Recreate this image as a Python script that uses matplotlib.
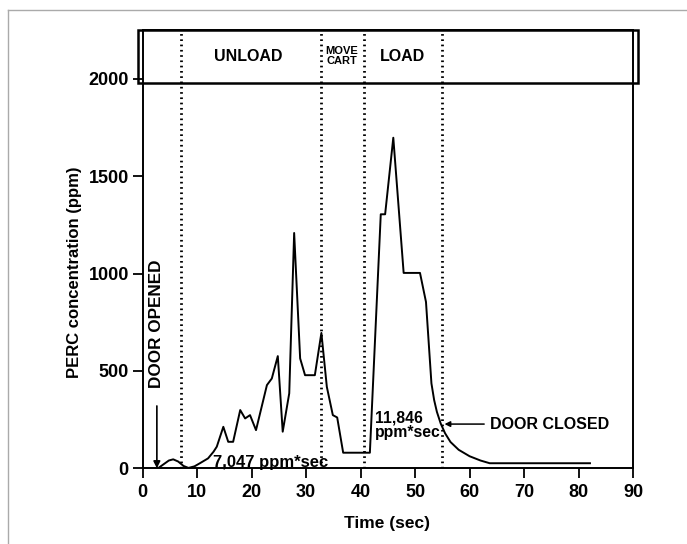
import matplotlib
matplotlib.use("Agg")
import matplotlib.pyplot as plt
from matplotlib.patches import Rectangle
from matplotlib.lines import Line2D

plt.rcParams['font.family'] = ['Liberation Sans', 'DejaVu Sans']
plt.rcParams['font.weight'] = 'bold'

# PERC concentration trace
time_s = [2.9, 3.8, 4.8, 5.6, 6.5, 7.5, 8.4, 9.5, 10.5, 12.0, 13.0, 13.6,
          14.8, 15.7, 16.6, 17.9, 18.8, 19.7, 20.8, 22.8, 23.7, 24.8, 25.7,
          26.9, 27.8, 28.9, 29.8, 31.6, 32.8, 33.8, 34.9, 35.7, 36.8, 41.7,
          43.7, 44.5, 46.0, 47.9, 50.9, 52.0, 53.0, 53.5, 54.0, 54.7, 55.5,
          56.5, 58.0, 60.0, 62.0, 63.7, 82.1]
perc_ppm = [2, 20, 40, 46, 35, 12, 2, 10, 26, 51, 85, 111,
            213, 136, 136, 299, 256, 273, 196, 427, 461, 576, 188,
            385, 1208, 564, 478, 478, 695, 418, 273, 261, 80, 80,
            1304, 1304, 1697, 1003, 1003, 854, 436, 350, 290, 230, 180,
            135, 95, 62, 40, 26, 26]

phase_bounds = [7.0, 32.7, 40.7, 55.0]
phase_labels = ["UNLOAD", "MOVE\nCART", "LOAD"]
phase_centers = [19.4, 36.6, 47.7]
phase_sizes = [11.5, 8, 11.5]

xticks = [0, 10, 20, 30, 40, 50, 60, 70, 80, 90]
yticks = [0, 500, 1000, 1500, 2000]

fig = plt.figure(figsize=(6.87, 5.44), dpi=100)
ax = fig.add_axes([142.7 / 687, 1 - 468.3 / 544, 490.3 / 687, 438.3 / 544])

# faint page border (top/left only visible)
fig.add_artist(Line2D([8 / 687, 8 / 687], [0, 1 - 10 / 544], transform=fig.transFigure,
                      color='#aaaaaa', lw=1))
fig.add_artist(Line2D([8 / 687, 1], [1 - 10 / 544, 1 - 10 / 544], transform=fig.transFigure,
                      color='#aaaaaa', lw=1))

ax.plot(time_s, perc_ppm, color='black', lw=1.4)

for b in phase_bounds:
    ax.plot([b, b], [0, 2250], color='black', lw=2.0, linestyle=(0, (0.6, 1.3)))

ax.set_xlim(0, 90)
ax.set_ylim(0, 2250)

# phase box across the top
box = Rectangle((-0.009, 1977), 1.019, 2250 - 1977, transform=ax.get_yaxis_transform(),
                fill=False, ec='black', lw=1.8, clip_on=False, zorder=5)
ax.add_patch(box)
for lab, xc, fs in zip(phase_labels, phase_centers, phase_sizes):
    ax.text(xc, 2115, lab, ha='center', va='center', fontsize=fs, fontweight='bold',
            linespacing=0.95)

ax.set_xticks(xticks)
ax.set_yticks(yticks)
ax.tick_params(axis='both', direction='out', length=7, width=1.3, labelsize=13)
ax.tick_params(axis='x', pad=4)
ax.tick_params(axis='y', pad=3)
for lab in ax.get_xticklabels() + ax.get_yticklabels():
    lab.set_fontweight('bold')
for sp in ax.spines.values():
    sp.set_linewidth(1.4)

ax.set_xlabel("Time (sec)", fontsize=12.5, fontweight='bold', va='center')
ax.xaxis.set_label_coords(0.498, -0.125)
ax.set_ylabel("PERC concentration (ppm)", fontsize=12, fontweight='bold', va='center')
ax.yaxis.set_label_coords(-0.14, 0.448)

# annotations
ax.annotate("", xy=(2.6, 0), xytext=(2.6, 320),
            arrowprops=dict(arrowstyle='-|>', color='black', lw=1.2,
                            mutation_scale=10, shrinkA=0, shrinkB=0))
ax.text(2.6, 740, "DOOR OPENED", rotation=90, ha='center', va='center',
        fontsize=12.3, fontweight='bold')
ax.text(12.9, 30, "7,047 ppm*sec", ha='left', va='center', fontsize=12, fontweight='bold')
ax.text(42.6, 220, "11,846\nppm*sec", ha='left', va='center', fontsize=11.3,
        fontweight='bold', linespacing=1.0)
ax.annotate("DOOR CLOSED", xy=(55.4, 227), xytext=(63.7, 227), ha='left', va='center',
            fontsize=11.5, fontweight='bold',
            arrowprops=dict(arrowstyle='-|>', color='black', lw=1.1,
                            mutation_scale=8, shrinkA=2, shrinkB=0))

fig.savefig("out.png", dpi=100)
